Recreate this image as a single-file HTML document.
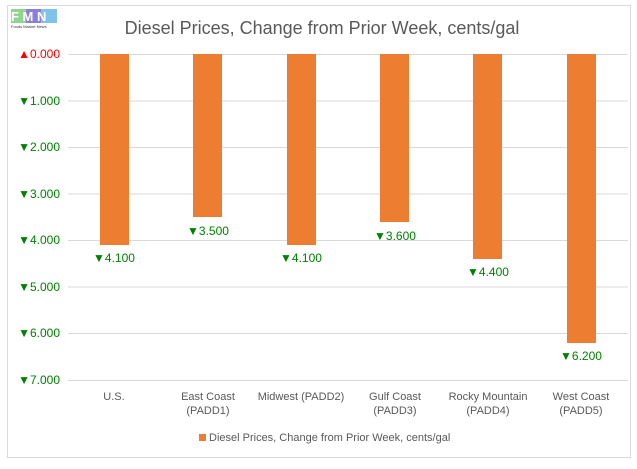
<!DOCTYPE html>
<html><head><style>body{margin:0;background:#fff}</style></head><body>
<svg width="637" height="464" xmlns="http://www.w3.org/2000/svg" font-family="Liberation Sans, sans-serif">
<rect x="0" y="0" width="637" height="464" fill="#fff"/>
<rect x="7.5" y="5.5" width="623" height="452" fill="none" stroke="#d9d9d9"/>
<rect x="11" y="9" width="15" height="14" fill="#8fd48f"/>
<rect x="26" y="9" width="15" height="14" fill="#8a80d8"/>
<rect x="41" y="9" width="16" height="14" fill="#7fc4e8"/>
<text x="11" y="21" font-size="13" font-weight="bold" fill="#fff">F M N</text>
<text x="11" y="28" font-size="4" fill="#333">Foods Market News</text>
<text x="322" y="34" font-size="18" fill="#595959" text-anchor="middle">Diesel Prices, Change from Prior Week, cents/gal</text>
<g stroke="#d9d9d9" stroke-width="1">
<line x1="68" x2="628" y1="54.5" y2="54.5"/><line x1="68" x2="628" y1="101" y2="101"/>
<line x1="68" x2="628" y1="147.5" y2="147.5"/><line x1="68" x2="628" y1="194" y2="194"/>
<line x1="68" x2="628" y1="240.5" y2="240.5"/><line x1="68" x2="628" y1="287" y2="287"/>
<line x1="68" x2="628" y1="333.5" y2="333.5"/><line x1="68" x2="628" y1="380.5" y2="380.5"/>
</g>
<g font-size="12" text-anchor="end">
<text x="60" y="58" fill="#ff0000">▲0.000</text>
<g fill="#008000">
<text x="60" y="105">▼1.000</text><text x="60" y="151">▼2.000</text><text x="60" y="198">▼3.000</text>
<text x="60" y="244">▼4.000</text><text x="60" y="291">▼5.000</text><text x="60" y="337">▼6.000</text><text x="60" y="384">▼7.000</text>
</g></g>
<g fill="#ed7d31">
<rect x="100" y="54" width="29" height="191"/>
<rect x="193" y="54" width="29" height="163"/>
<rect x="287" y="54" width="29" height="191"/>
<rect x="380" y="54" width="29" height="168"/>
<rect x="473" y="54" width="29" height="205"/>
<rect x="567" y="54" width="29" height="289"/>
</g>
<g font-size="12" fill="#008000" text-anchor="middle">
<text x="114" y="262">▼4.100</text><text x="208" y="235">▼3.500</text><text x="301" y="262">▼4.100</text>
<text x="395" y="240">▼3.600</text><text x="488" y="276">▼4.400</text><text x="581" y="360">▼6.200</text>
</g>
<g font-size="11" fill="#595959" text-anchor="middle">
<text x="114" y="400">U.S.</text>
<text x="208" y="400">East Coast</text><text x="208" y="414">(PADD1)</text>
<text x="301" y="400">Midwest (PADD2)</text>
<text x="395" y="400">Gulf Coast</text><text x="395" y="414">(PADD3)</text>
<text x="488" y="400">Rocky Mountain</text><text x="488" y="414">(PADD4)</text>
<text x="581" y="400">West Coast</text><text x="581" y="414">(PADD5)</text>
</g>
<rect x="199" y="434" width="7" height="7" fill="#ed7d31"/>
<text x="209" y="441" font-size="11" fill="#595959">Diesel Prices, Change from Prior Week, cents/gal</text>
</svg>
</body></html>
